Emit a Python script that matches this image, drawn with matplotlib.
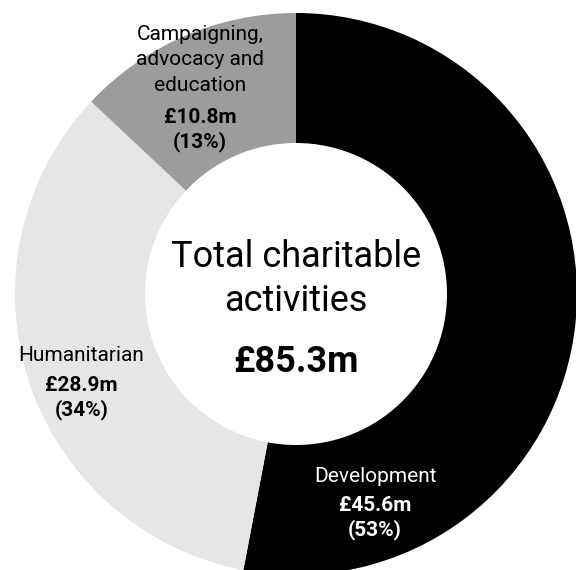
import numpy as np
import matplotlib
matplotlib.use("Agg")
from matplotlib import pyplot as plt

plt.rcParams['font.family'] = ['Roboto', 'DejaVu Sans']

# spend on charitable activities, £m, and share of the total
labels = [["Development"],
          ["Humanitarian"],
          ["Campaigning,", "advocacy and", "education"]]
values = [45.6, 28.9, 10.8]
shares = [53, 34, 13]
total = 85.3
colours = ["#000000", "#e6e6e6", "#9c9c9c"]
text_colours = ["white", "black", "black"]

W, H = 576, 570
fig = plt.figure(figsize=(W / 100, H / 100), dpi=100)
ax = fig.add_axes([0, 0, 1, 1])

# work in pixel units, y measured down from the top edge
cx, cy = 296, 294
ax.pie(shares, colors=colours, startangle=90, counterclock=False,
       radius=281, center=(cx, H - cy), frame=True,
       wedgeprops=dict(width=130, linewidth=0))
ax.set_xlim(0, W)
ax.set_ylim(0, H)
ax.set_aspect('equal')
ax.axis('off')


def put(x, y, s, **kw):
    ax.text(x, H - y, s, ha='center', va='baseline', **kw)


# x centre and baseline of the first line, gap to the value line
label_x = [375, 81.5, 200]
label_y = [481.7, 361, 40]
line_gap = 25.3
value_gap = [29.3, 29.7, 32.6]
for i in range(len(values)):
    x, y = label_x[i], label_y[i]
    for line in labels[i]:
        put(x, y, line, fontsize=15, color=text_colours[i])
        y += line_gap
    y += value_gap[i] - line_gap
    put(x, y, f"£{values[i]}m", fontsize=15, fontweight='bold',
        color=text_colours[i])
    put(x, y + 24.7, f"({shares[i]}%)", fontsize=15, fontweight='bold',
        color=text_colours[i])

put(cx, 266.7, "Total charitable", fontsize=26)
put(cx, 310.7, "activities", fontsize=26)
put(cx, 371.7, f"£{total}m", fontsize=26, fontweight='bold')

fig.savefig("out.png", dpi=100)
